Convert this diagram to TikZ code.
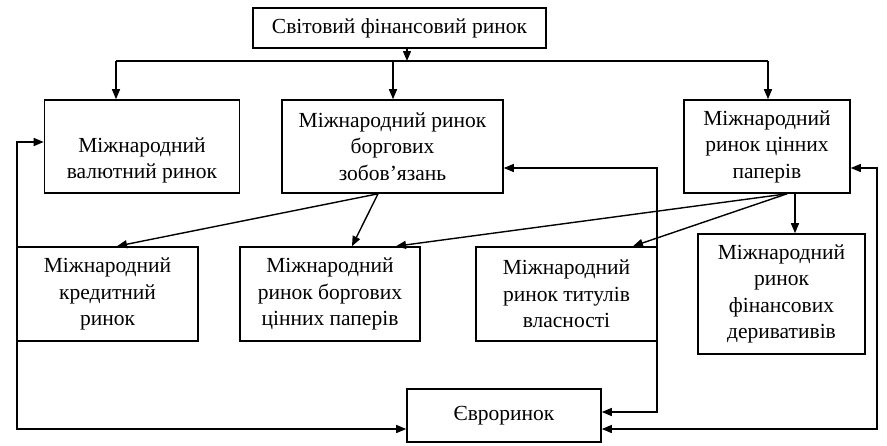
\documentclass[tikz,border=0pt]{standalone}
\usepackage{fontspec}
\setmainfont{Liberation Serif}
\usetikzlibrary{arrows.meta}
\begin{document}
\begin{tikzpicture}[x=1pt,y=-1pt,
  box/.style={draw,line width=1.6pt,rectangle,align=center,inner sep=0pt,
    font=\fontsize{21.5}{26.5}\selectfont},
  conn/.style={line width=1.4pt},
  arr/.style={conn,-{Triangle[length=10pt,width=8pt]}},
  arrboth/.style={conn,{Triangle[length=10pt,width=8pt]}-{Triangle[length=10pt,width=8pt]}}]
\useasboundingbox (0,0) rectangle (887,445);
\node[box,minimum width=293pt,minimum height=40pt] (top) at (399.5,28) {Світовий фінансовий ринок};
\node[box,minimum width=195pt,minimum height=93pt,
  label={[align=center,yshift=-14pt,font=\fontsize{21.5}{26.5}\selectfont]center:Міжнародний\\валютний ринок}] (b1) at (142,146.5) {};
\node[box,minimum width=221pt,minimum height=93pt] (b2) at (392.5,146.5) {Міжнародний ринок\\боргових\\зобов’язань};
\node[box,minimum width=166pt,minimum height=93pt] (b3) at (767,146.5) {Міжнародний\\ринок цінних\\паперів};
\node[box,minimum width=181pt,minimum height=94pt] (b4) at (107.5,294) {Міжнародний\\кредитний\\ринок};
\node[box,minimum width=180pt,minimum height=94pt] (b5) at (330,294) {Міжнародний\\ринок боргових\\цінних паперів};
\node[box,minimum width=181pt,minimum height=94pt] (b6) at (566.5,294) {Міжнародний\\ринок титулів\\власності};
\node[box,minimum width=167pt,minimum height=120pt] (b7) at (781.5,294) {Міжнародний\\ринок\\фінансових\\деривативів};
\node[box,minimum width=194pt,minimum height=53pt] (eu) at (504,415.5) {Євроринок};

\coordinate (j0) at (407,61);
\coordinate (jL) at (116,61);
\coordinate (jR) at (768,61);
\coordinate (jM) at (393,61);
\draw[arr] (top.south -| j0) -- (j0);
\draw[conn] (jL) -- (jR);
\draw[arr] (jL) -- (b1.north -| jL);
\draw[arr] (jM) -- (b2.north -| jM);
\draw[arr] (jR) -- (b3.north -| jR);

\coordinate (l1) at (17,142);
\coordinate (l2) at (17,429);
\draw[arrboth] (b1.west |- l1) -- (l1) -- (l2) -- (eu.west |- l2);
\coordinate (m1) at (657,168);
\coordinate (m2) at (657,412);
\draw[arrboth] (b2.east |- m1) -- (m1) -- (m2) -- (eu.east |- m2);
\coordinate (r1) at (877,168);
\coordinate (r2) at (877,429);
\draw[arrboth] (b3.east |- r1) -- (r1) -- (r2) -- (eu.east |- r2);

\coordinate (x378) at (378,0);
\coordinate (x117) at (117,0);
\coordinate (x352) at (352,0);
\coordinate (x787) at (787,0);
\coordinate (x396) at (396,0);
\coordinate (x633) at (633,0);
\coordinate (x795) at (795,0);
\draw[arr] (b2.south -| x378) -- (b4.north -| x117);
\draw[arr] (b2.south -| x378) -- (b5.north -| x352);
\draw[arr] (b3.south -| x787) -- (b5.north -| x396);
\draw[arr] (b3.south -| x787) -- (b6.north -| x633);
\draw[arr] (b3.south -| x795) -- (b7.north -| x795);
\end{tikzpicture}
\end{document}
